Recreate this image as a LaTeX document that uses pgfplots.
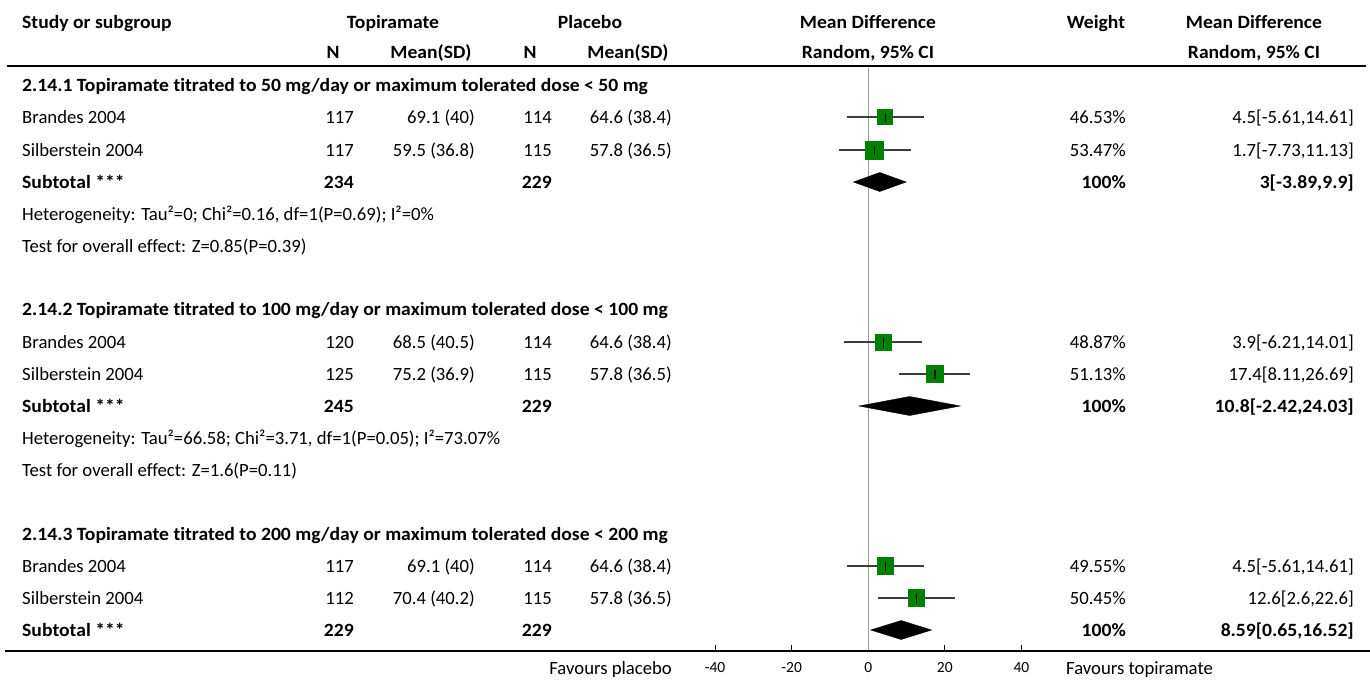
\documentclass[border=0pt]{standalone}
\usepackage{fontspec}
\setmainfont[Ligatures=NoCommon, BoldFeatures={FakeStretch=1.05}]{Carlito}
\usepackage{pgfplots}
\pgfplotsset{compat=1.18}
\definecolor{sqgreen}{HTML}{008000}
\definecolor{cigray}{HTML}{3C3C3C}
\definecolor{zerogray}{HTML}{999999}
\newcommand\fs{\fontsize{18.7}{22}\selectfont}
\begin{document}
\begin{tikzpicture}[x=1pt,y=1pt]
\path[use as bounding box] (0,0) rectangle (1370,-680);
\begin{axis}[at={(695pt,-651pt)}, anchor=south west, scale only axis,
  width=346.7pt, height=583pt, xmin=-45.25, xmax=45.3, ymin=-651, ymax=-68,
  axis y line=none, axis x line=bottom, x axis line style={-, line width=2.6pt},
  xtick={-40,-20,0,20,40}, ytick=\empty, tick align=inside,
  major tick length=6pt, tick style={black, line width=0.8pt},
  /pgf/number format/assume math mode=true,
  xticklabel style={font=\fontsize{15.5}{18}\selectfont, anchor=base, yshift=-21.5pt},
  clip=false]
% line of no effect
\addplot[zerogray, line width=1pt] coordinates {(0,-68) (0,-651)};
% confidence intervals
\addplot[cigray, line width=1.4pt] coordinates {(-5.61,-117) (14.61,-117)};
\addplot[cigray, line width=1.4pt] coordinates {(-7.73,-150) (11.13,-150)};
\addplot[cigray, line width=1.4pt] coordinates {(-6.21,-342) (14.01,-342)};
\addplot[cigray, line width=1.4pt] coordinates {(8.11,-374) (26.69,-374)};
\addplot[cigray, line width=1.4pt] coordinates {(-5.61,-566) (14.61,-566)};
\addplot[cigray, line width=1.4pt] coordinates {(2.6,-598) (22.6,-598)};
% study squares (size by weight)
\pgfplotsset{sq/.style={only marks, mark=square*, mark options={solid, draw=sqgreen, fill=sqgreen, line width=0pt}}}
\addplot[sq, mark size=7.5pt] coordinates {(4.5,-117)};
\addplot[sq, mark size=9pt] coordinates {(1.7,-150)};
\addplot[sq, mark size=8pt] coordinates {(3.9,-342)};
\addplot[sq, mark size=8.5pt] coordinates {(17.4,-374)};
\addplot[sq, mark size=8.1pt] coordinates {(4.5,-566)};
\addplot[sq, mark size=8.4pt] coordinates {(12.6,-598)};
% point estimate ticks
\addplot[only marks, mark=|, mark size=4.5pt, mark options={black, line width=1.3pt}] coordinates {(4.5,-117) (1.7,-150) (3.9,-342) (17.4,-374) (4.5,-566) (12.6,-598)};
% subtotal diamonds
\addplot[fill=black, draw=black] coordinates {(-3.89,-182) (3,-172.5) (9.9,-182) (3,-191.5)} --cycle;
\addplot[fill=black, draw=black] coordinates {(-2.42,-406) (10.8,-396.5) (24.03,-406) (10.8,-415.5)} --cycle;
\addplot[fill=black, draw=black] coordinates {(0.65,-630) (8.59,-620.5) (16.52,-630) (8.59,-639.5)} --cycle;
\end{axis}
% rules
\draw[line width=2pt] (7,-66) -- (1366,-66);
\draw[line width=1.8pt] (5,-651) -- (1370,-651);
\begin{scope}[every node/.style={font=\fs, inner sep=0pt}]
% header
\node[anchor=base west] at (22,-28) {\bfseries Study or subgroup};
\node[anchor=base] at (393,-28) {\bfseries Topiramate};
\node[anchor=base] at (590,-28) {\bfseries Placebo};
\node[anchor=base] at (868,-28) {\bfseries Mean Difference};
\node[anchor=base] at (1096,-28) {\bfseries Weight};
\node[anchor=base] at (1254,-28) {\bfseries Mean Difference};
\node[anchor=base] at (333,-58) {\bfseries N};
\node[anchor=base] at (431,-58) {\bfseries Mean(SD)};
\node[anchor=base] at (530,-58) {\bfseries N};
\node[anchor=base] at (628,-58) {\bfseries Mean(SD)};
\node[anchor=base] at (868,-58) {\bfseries Random, 95\% CI};
\node[anchor=base] at (1254,-58) {\bfseries Random, 95\% CI};
% group 1
\node[anchor=base west] at (22,-91) {\bfseries 2.14.1 Topiramate titrated to 50 mg/day or maximum tolerated dose < 50 mg};
\node[anchor=base west] at (22,-123) {Brandes 2004};
\node[anchor=base east] at (354,-123) {117};
\node[anchor=base east] at (475,-123) {69.1 (40)};
\node[anchor=base east] at (552,-123) {114};
\node[anchor=base east] at (672,-123) {64.6 (38.4)};
\node[anchor=base east] at (1126,-123) {46.53\%};
\node[anchor=base east] at (1354,-123) {4.5[-5.61,14.61]};
\node[anchor=base west] at (22,-156) {Silberstein 2004};
\node[anchor=base east] at (354,-156) {117};
\node[anchor=base east] at (475,-156) {59.5 (36.8)};
\node[anchor=base east] at (552,-156) {115};
\node[anchor=base east] at (672,-156) {57.8 (36.5)};
\node[anchor=base east] at (1126,-156) {53.47\%};
\node[anchor=base east] at (1354,-156) {1.7[-7.73,11.13]};
\node[anchor=base west] at (22,-188) {\bfseries Subtotal ***};
\node[anchor=base east] at (354,-188) {\bfseries 234};
\node[anchor=base east] at (552,-188) {\bfseries 229};
\node[anchor=base east] at (1126,-188) {\bfseries 100\%};
\node[anchor=base east] at (1354,-188) {\bfseries 3[-3.89,9.9]};
\node[anchor=base west] at (22,-220) {Heterogeneity: Tau²=0; Chi²=0.16, df=1(P=0.69); I²=0\%};
\node[anchor=base west] at (22,-252) {Test for overall effect: Z=0.85(P=0.39)};
% group 2
\node[anchor=base west] at (22,-315) {\bfseries 2.14.2 Topiramate titrated to 100 mg/day or maximum tolerated dose < 100 mg};
\node[anchor=base west] at (22,-348) {Brandes 2004};
\node[anchor=base east] at (354,-348) {120};
\node[anchor=base east] at (475,-348) {68.5 (40.5)};
\node[anchor=base east] at (552,-348) {114};
\node[anchor=base east] at (672,-348) {64.6 (38.4)};
\node[anchor=base east] at (1126,-348) {48.87\%};
\node[anchor=base east] at (1354,-348) {3.9[-6.21,14.01]};
\node[anchor=base west] at (22,-380) {Silberstein 2004};
\node[anchor=base east] at (354,-380) {125};
\node[anchor=base east] at (475,-380) {75.2 (36.9)};
\node[anchor=base east] at (552,-380) {115};
\node[anchor=base east] at (672,-380) {57.8 (36.5)};
\node[anchor=base east] at (1126,-380) {51.13\%};
\node[anchor=base east] at (1354,-380) {17.4[8.11,26.69]};
\node[anchor=base west] at (22,-412) {\bfseries Subtotal ***};
\node[anchor=base east] at (354,-412) {\bfseries 245};
\node[anchor=base east] at (552,-412) {\bfseries 229};
\node[anchor=base east] at (1126,-412) {\bfseries 100\%};
\node[anchor=base east] at (1354,-412) {\bfseries 10.8[-2.42,24.03]};
\node[anchor=base west] at (22,-444) {Heterogeneity: Tau²=66.58; Chi²=3.71, df=1(P=0.05); I²=73.07\%};
\node[anchor=base west] at (22,-476) {Test for overall effect: Z=1.6(P=0.11)};
% group 3
\node[anchor=base west] at (22,-540) {\bfseries 2.14.3 Topiramate titrated to 200 mg/day or maximum tolerated dose < 200 mg};
\node[anchor=base west] at (22,-572) {Brandes 2004};
\node[anchor=base east] at (354,-572) {117};
\node[anchor=base east] at (475,-572) {69.1 (40)};
\node[anchor=base east] at (552,-572) {114};
\node[anchor=base east] at (672,-572) {64.6 (38.4)};
\node[anchor=base east] at (1126,-572) {49.55\%};
\node[anchor=base east] at (1354,-572) {4.5[-5.61,14.61]};
\node[anchor=base west] at (22,-604) {Silberstein 2004};
\node[anchor=base east] at (354,-604) {112};
\node[anchor=base east] at (475,-604) {70.4 (40.2)};
\node[anchor=base east] at (552,-604) {115};
\node[anchor=base east] at (672,-604) {57.8 (36.5)};
\node[anchor=base east] at (1126,-604) {50.45\%};
\node[anchor=base east] at (1354,-604) {12.6[2.6,22.6]};
\node[anchor=base west] at (22,-636) {\bfseries Subtotal ***};
\node[anchor=base east] at (354,-636) {\bfseries 229};
\node[anchor=base east] at (552,-636) {\bfseries 229};
\node[anchor=base east] at (1126,-636) {\bfseries 100\%};
\node[anchor=base east] at (1354,-636) {\bfseries 8.59[0.65,16.52]};
% favours labels
\node[anchor=base east] at (672,-674) {Favours placebo};
\node[anchor=base west] at (1066,-674) {Favours topiramate};
\end{scope}
\end{tikzpicture}
\end{document}
